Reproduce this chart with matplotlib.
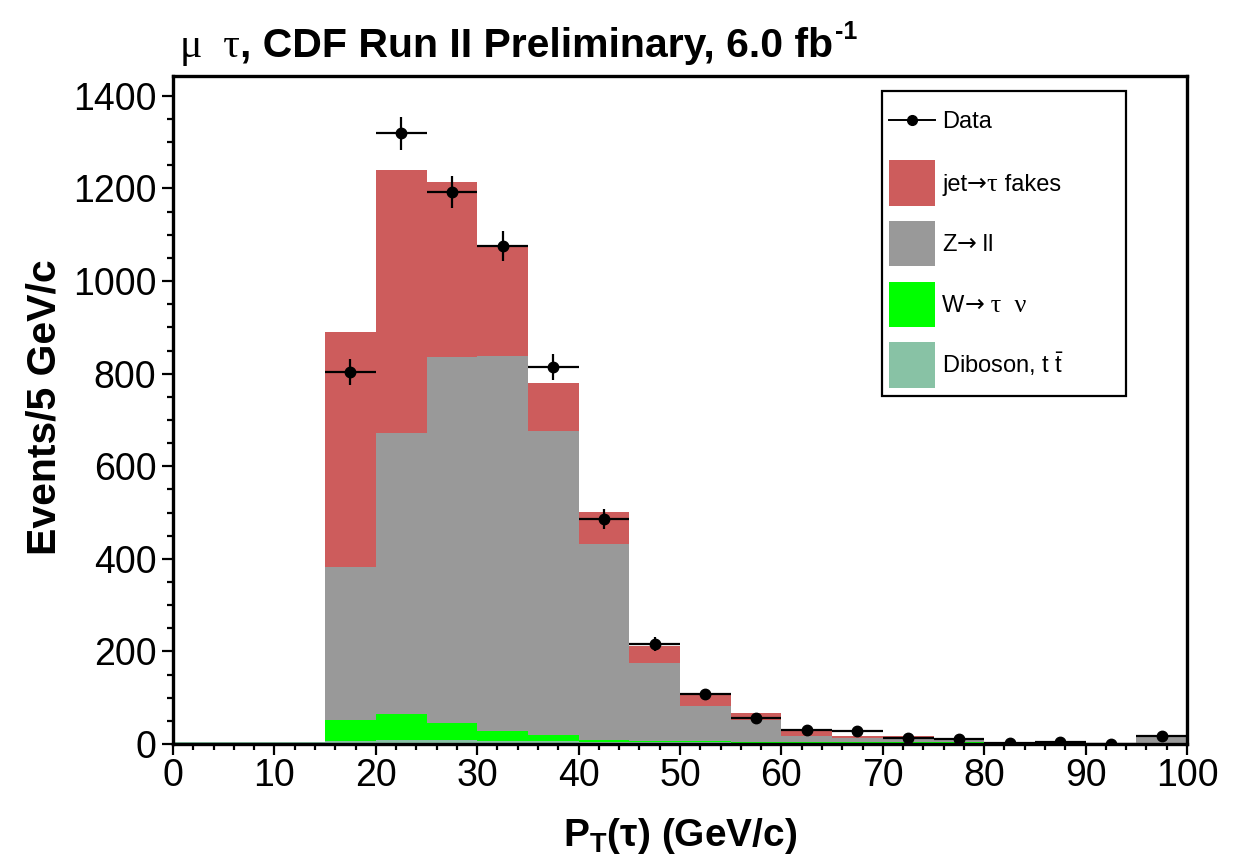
import matplotlib
matplotlib.use('Agg')
import matplotlib.pyplot as plt
import numpy as np
from matplotlib.patches import Rectangle
from matplotlib.lines import Line2D
from matplotlib.ticker import MultipleLocator

plt.rcParams['font.family'] = ['Liberation Sans', 'DejaVu Sans']
plt.rcParams['mathtext.fontset'] = 'custom'
plt.rcParams['mathtext.rm'] = 'Liberation Sans'
plt.rcParams['mathtext.it'] = 'Liberation Sans:italic'
plt.rcParams['mathtext.bf'] = 'Liberation Sans:bold'

# ---------------- data ----------------
bin_edges = [0, 5, 10, 15, 20, 25, 30, 35, 40, 45, 50, 55, 60, 65, 70, 75, 80, 85, 90, 95, 100]
diboson = [4, 4, 4, 6, 8, 8, 7, 6, 4, 4, 4, 3, 3, 3, 3, 3, 2, 2, 2, 3]
w_taunu = [0, 0, 0, 45, 56, 37, 21, 13, 4, 3, 2, 1, 1, 1, 1, 1, 0, 0, 0, 0]
z_ll = [0, 0, 0, 331, 608, 792, 811, 658, 425, 167, 76, 48, 14, 10, 8.5, 4, 1, 2, 1, 13]
jet_fakes = [0, 0, 0, 507, 568, 377, 237, 103, 68, 38, 26, 14.5, 14.5, 3, 4, 4, 1, 2, 0, 3.5]

data_x = [17.5, 22.5, 27.5, 32.5, 37.5, 42.5, 47.5, 52.5, 57.5, 62.5, 67.5, 72.5, 77.5, 82.5, 87.5, 92.5, 97.5]
data_y = [803, 1319, 1192, 1076, 815, 486, 216, 108, 56, 31, 28, 12, 10, 3, 5, 1, 17]
data_err = [28, 36, 34, 32, 28, 22, 15, 10, 7.5, 5.6, 5.3, 3.5, 3.2, 1.7, 2.2, 1, 4.1]

SANS, SERIF, ARROWF = 'Liberation Sans', 'Liberation Serif', 'DejaVu Sans'
legend_pieces = [
    [('Data', SANS, 17)],
    [('jet', SANS, 17), ('\u2192', ARROWF, 17), ('\u03c4', SERIF, 19), (' fakes', SANS, 17)],
    [('Z', SANS, 17), ('\u2192', ARROWF, 17), (' ll', SANS, 17)],
    [('W', SANS, 17), ('\u2192', ARROWF, 17), (' \u03c4  \u03bd', SERIF, 19)],
    [(r'Diboson, t $\bar{\mathrm{t}}$', SANS, 17)],
]
colors = {'fakes': '#cd5c5c', 'zll': '#999999', 'w': '#00ff00', 'dib': '#88c2a5'}

# ---------------- figure ----------------
W, H = 1250, 861
fig = plt.figure(figsize=(W / 100, H / 100), dpi=100)
ax_l, ax_r, ax_t, ax_b = 173, 1187, 76, 744
ax = fig.add_axes([ax_l / W, 1 - ax_b / H, (ax_r - ax_l) / W, (ax_b - ax_t) / H])

edges = np.array(bin_edges, dtype=float)
b0 = np.zeros(len(diboson))
t1 = b0 + np.array(diboson)
t2 = t1 + np.array(w_taunu)
t3 = t2 + np.array(z_ll)
t4 = t3 + np.array(jet_fakes)

ax.stairs(t4, edges, baseline=t3, fill=True, color=colors['fakes'], lw=0)
ax.stairs(t3, edges, baseline=t2, fill=True, color=colors['zll'], lw=0)
ax.stairs(t2, edges, baseline=t1, fill=True, color=colors['w'], lw=0)
ax.stairs(t1, edges, baseline=b0, fill=True, color=colors['dib'], lw=0)

ax.errorbar(data_x, data_y, xerr=2.5, yerr=data_err, fmt='o', color='black',
            ms=7.5, elinewidth=1.6, capsize=0, zorder=5)

ax.set_xlim(0, 100)
ax.set_ylim(0, 1443)
ax.xaxis.set_major_locator(MultipleLocator(10))
ax.xaxis.set_minor_locator(MultipleLocator(2))
ax.yaxis.set_major_locator(MultipleLocator(200))
ax.yaxis.set_minor_locator(MultipleLocator(50))
ax.tick_params(axis='both', which='major', labelsize=27, width=1.6, length=8, direction='out')
ax.tick_params(axis='both', which='minor', width=1.6, length=4.5, direction='out')
ax.tick_params(axis='y', which='major', pad=4)
ax.tick_params(axis='x', which='major', pad=2)
for s in ax.spines.values():
    s.set_linewidth(2.4)

# ---------------- legend (manual) ----------------
def afx(px):
    return (px - ax_l) / (ax_r - ax_l)

def afy(py):
    return (ax_b - py) / (ax_b - ax_t)

tr = ax.transAxes
ax.add_patch(Rectangle((afx(882), afy(396)), afx(1126) - afx(882), afy(91) - afy(396),
                       transform=tr, facecolor='white', edgecolor='black', lw=1.6, zorder=10))
ax.add_line(Line2D([afx(889), afx(935)], [afy(120), afy(120)], transform=tr, color='black', lw=1.4, zorder=11))
ax.add_line(Line2D([afx(912)], [afy(120)], transform=tr, color='black', marker='o', ms=7, zorder=11))
row_cols = [colors['fakes'], colors['zll'], colors['w'], colors['dib']]
row_y = [120, 183, 243, 304, 365]
for c, yc in zip(row_cols, row_y[1:]):
    ax.add_patch(Rectangle((afx(889), afy(yc + 22.5)), afx(935) - afx(889), afy(yc - 22.5) - afy(yc + 22.5),
                           transform=tr, facecolor=c, edgecolor='none', zorder=11))

fig.canvas.draw()
renderer = fig.canvas.get_renderer()


def draw_pieces(x_px, base_px, pieces, weight='normal'):
    x = x_px
    for s, fam, fs in pieces:
        t = fig.text(x / W, 1 - base_px / H, s, fontsize=fs, family=[fam, 'DejaVu Sans'],
                     fontweight=weight, va='baseline', ha='left', zorder=20)
        bb = t.get_window_extent(renderer)
        x = bb.x1
    return x


for pieces, yc in zip(legend_pieces, row_y):
    draw_pieces(942, yc + 8, pieces)

# ---------------- axis titles ----------------
fig.text(680 / W, 1 - 836 / H, r'P$_\mathbf{T}$(' + '\u03c4) (GeV/c)', fontsize=28, fontweight='bold',
         ha='center', va='center')
fig.text(45 / W, 1 - 407 / H, 'Events/5 GeV/c', fontsize=29.5, fontweight='bold',
         rotation=90, ha='center', va='center')

# ---------------- title (pieces) ----------------
base_px = 57
x_end = draw_pieces(180, base_px, [('\u03bc  \u03c4', SERIF, 30)])
x_end = draw_pieces(x_end, base_px, [(', CDF Run II Preliminary, 6.0 fb', SANS, 29.5)], weight='bold')
draw_pieces(x_end + 2, base_px - 18, [('-1', SANS, 18)], weight='bold')

fig.savefig('out.png', dpi=100)
